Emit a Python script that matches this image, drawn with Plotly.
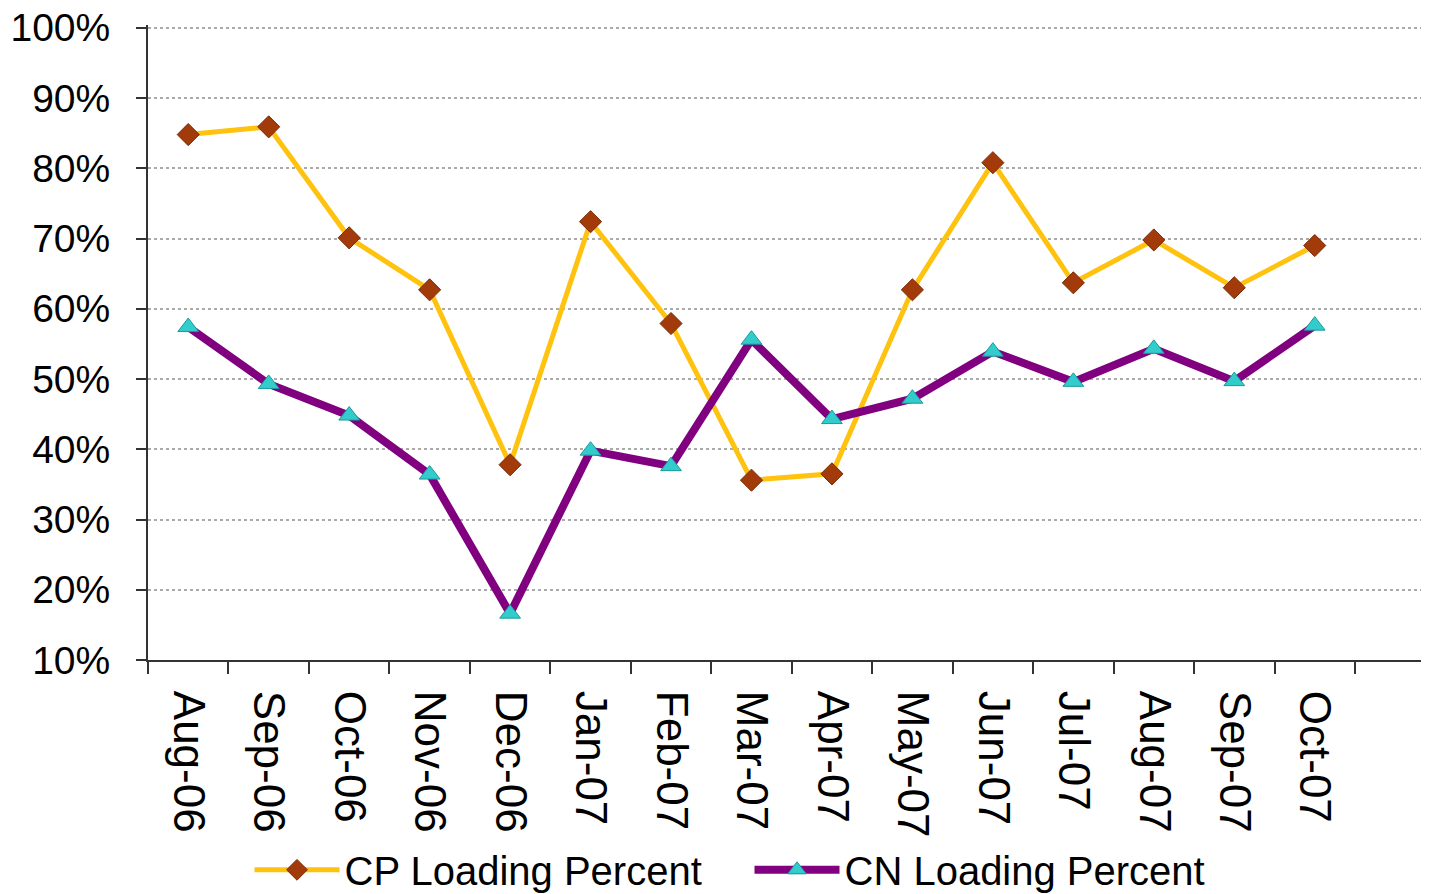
import plotly.graph_objects as go

months = ["Aug-06", "Sep-06", "Oct-06", "Nov-06", "Dec-06", "Jan-07", "Feb-07",
          "Mar-07", "Apr-07", "May-07", "Jun-07", "Jul-07", "Aug-07", "Sep-07", "Oct-07"]
cp_loading = [84.8, 85.9, 70.1, 62.7, 37.8, 72.4, 57.9, 35.6, 36.5, 62.7, 80.8, 63.7, 69.8, 63.0, 69.0]
cn_loading = [57.4, 49.3, 44.8, 36.4, 16.6, 39.8, 37.6, 55.6, 44.3, 47.2, 53.9, 49.6, 54.3, 49.7, 57.6]
y_ticks = [10, 20, 30, 40, 50, 60, 70, 80, 90, 100]
y_labels = ["10%", "20%", "30%", "40%", "50%", "60%", "70%", "80%", "90%", "100%"]

FONT = "Liberation Sans, Arial, sans-serif"

fig = go.Figure()

fig.add_trace(go.Scatter(
    x=months, y=cp_loading, name="CP Loading Percent",
    mode="lines+markers",
    line=dict(color="#FFC20E", width=5),
    marker=dict(symbol="diamond", size=17, color="#A23A0A",
                line=dict(color="#7A2A05", width=1)),
))
fig.add_trace(go.Scatter(
    x=months, y=cn_loading, name="CN Loading Percent",
    mode="lines+markers",
    line=dict(color="#800080", width=8),
    marker=dict(symbol="triangle-up", size=18, color="#33CCCC",
                line=dict(color="#1A9999", width=1)),
))

# the page body adds an 8px offset, so margins are shifted to compensate
fig.update_layout(
    width=1429, height=894,
    margin=dict(l=140, r=8, t=17, b=242, autoexpand=False),
    plot_bgcolor="white", paper_bgcolor="white",
    font=dict(family=FONT, color="black"),
    legend=dict(
        orientation="h", xref="container", yref="container",
        x=0.169, y=0.036, xanchor="left", yanchor="middle",
        font=dict(size=40, family=FONT), itemwidth=85,
        entrywidth=400, entrywidthmode="pixels",
    ),
)

fig.update_xaxes(
    type="category", range=[-0.5, 15.42], automargin=False,
    tickson="boundaries", ticks="outside", ticklen=12, tickwidth=2, tickcolor="#333",
    tickangle=90, tickfont=dict(size=44, family=FONT),
    showline=True, linecolor="#333", linewidth=2,
    showgrid=False, ticklabelstandoff=20,
)
fig.update_yaxes(
    range=[10, 100.4], tickvals=y_ticks, ticktext=y_labels, automargin=False,
    ticks="outside", ticklen=10, tickwidth=2, tickcolor="#333",
    tickfont=dict(size=39, family=FONT), ticklabeloverflow="allow",
    showline=True, linecolor="#333", linewidth=2,
    showgrid=True, gridcolor="#AAAAAA", griddash="3px,3px", gridwidth=1.5,
    zeroline=False, ticklabelstandoff=18,
)

fig.write_html("out.html")
